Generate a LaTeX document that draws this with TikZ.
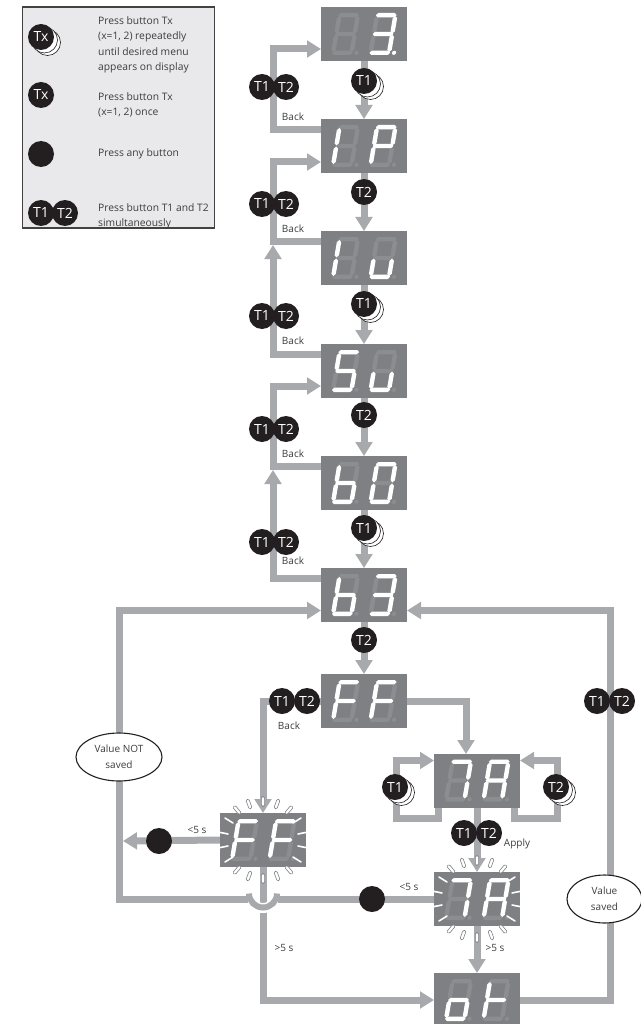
\documentclass[tikz,border=0pt]{standalone}
\usepackage{fontspec}
\setmainfont{Open Sans}
\usetikzlibrary{arrows.meta,backgrounds,shapes.geometric}
\definecolor{flow}{HTML}{A7A9AC}
\definecolor{panel}{HTML}{7F8083}
\definecolor{segdim}{HTML}{8C8D90}
\definecolor{ink}{HTML}{231F20}
\definecolor{txt}{HTML}{3C3C3C}
\definecolor{legendbg}{HTML}{E9E9EB}
\tikzset{
  disp/.style={fill=panel,minimum width=86pt,minimum height=54pt,inner sep=0pt,outer sep=0pt,rectangle},
  btn/.style={circle,fill=ink,text=white,minimum size=26pt,inner sep=0pt,font=\fontsize{14}{15}\selectfont},
  lab/.style={text=txt,font=\fontsize{10}{12}\selectfont,inner sep=0pt},
  leg/.style={text=txt,font=\fontsize{10.3}{15.4}\selectfont,inner sep=0pt,anchor=north west,align=left},
  flowline/.style={draw=flow,line width=7pt},
  flowarrow/.style={draw=flow,line width=7pt,-{Triangle[length=14pt,width=16.5pt]},},
  balloon/.style={ellipse,draw=ink,line width=1.1pt,fill=white,inner sep=0pt,text=txt,align=center,font=\fontsize{10}{16}\selectfont},
  ring/.style={draw=ink,line width=.6pt,fill=white},
  capsule/.style={draw=panel,line width=.6pt,fill=white,rounded corners=1.5pt},
}
% seven segment glyph parts, local size 23 x 42
\def\HS#1#2#3{(#1,#3) -- (#1+2.2,#3-2.2) -- (#2-2.2,#3-2.2) -- (#2,#3) -- (#2-2.2,#3+2.2) -- (#1+2.2,#3+2.2) -- cycle}
\def\VS#1#2#3{(#1,#2) -- (#1+2.2,#2+2.2) -- (#1+2.2,#3-2.2) -- (#1,#3) -- (#1-2.2,#3-2.2) -- (#1-2.2,#2+2.2) -- cycle}
\expandafter\def\csname sga\endcsname#1{\fill[#1] \HS{1.2}{22}{2.2};}
\expandafter\def\csname sgg\endcsname#1{\fill[#1] \HS{1.2}{22}{21};}
\expandafter\def\csname sgd\endcsname#1{\fill[#1] \HS{1.2}{22}{39.8};}
\expandafter\def\csname sgf\endcsname#1{\fill[#1] \VS{2.4}{3}{20.4};}
\expandafter\def\csname sge\endcsname#1{\fill[#1] \VS{2.4}{21.6}{39};}
\expandafter\def\csname sgb\endcsname#1{\fill[#1] \VS{20.8}{3}{20.4};}
\expandafter\def\csname sgc\endcsname#1{\fill[#1] \VS{20.8}{21.6}{39};}
\expandafter\def\csname sgp\endcsname#1{\fill[#1] (25.8,39.8) circle[radius=2.1];}
% one digit: local origin at top left of the glyph box
\newcommand{\onedigit}[3]{%
  \begin{scope}[shift={(#1,#2)},xslant=.17]
    \foreach \sgn in {a,b,c,d,e,f,g,p}{\csname sg\sgn\endcsname{segdim}}
    \foreach \sgn in {#3}{\csname sg\sgn\endcsname{white}}
  \end{scope}}
% display contents: centre x, centre y, lit left, lit right
\newcommand{\digits}[4]{%
  \onedigit{#1-26.5}{#2-21}{#3}
  \onedigit{#1+11}{#2-21}{#4}}
\newcommand{\flashrays}[2]{%
  \begin{scope}[shift={(#1,#2)}]
    \foreach \dx/\dy/\an in {-26/30/50,-14/36/70,0/38.5/90,14/36/110,26/30/130,
                             -26/-30/130,-14/-36/110,0/-38.5/90,14/-36/70,26/-30/50}{
      \begin{scope}[shift={(\dx,\dy)},rotate=\an]
        \draw[capsule] (-5,-1.6) rectangle (5,1.6);
      \end{scope}}
    \foreach \sx in {1,-1}{
      \draw[white,line width=1.6pt,line cap=round] (\sx*38,-22) -- (\sx*30,-17);
      \draw[white,line width=1.6pt,line cap=round] (\sx*45,-8) -- (\sx*35,-6);
      \draw[white,line width=1.6pt,line cap=round] (\sx*45,8) -- (\sx*35,6);
      \draw[white,line width=1.6pt,line cap=round] (\sx*38,22) -- (\sx*30,17);
    }
  \end{scope}}
\newcommand{\rings}[2]{%
  \draw[ring] (#1+6.5,#2+5.5) circle[radius=13];
  \draw[ring] (#1+3.5,#2+3) circle[radius=13];}
\begin{document}
\begin{tikzpicture}[x=1pt,y=-1pt]
\useasboundingbox (0,0) rectangle (640,1024);
% legend
\node[rectangle,draw=ink!85,line width=1.4pt,fill=legendbg,minimum width=192pt,minimum height=221pt,inner sep=0pt] (legend) at (118.5,117.5) {};
\rings{41}{37}
\node[btn] (legTxR) at (41,37) {Tx};
\node[btn] (legTx) at (41,95) {Tx};
\node[btn] (legAny) at (41,154) {};
\node[btn] (legT1) at (41,213) {T1};
\node[btn] (legT2) at (65,213) {T2};
\node[leg] (legA) at (98,16.5) {Press button Tx\\(x=1, 2) repeatedly\\until desired menu\\appears on display};
\node[leg] (legB) at (98,92.5) {Press button Tx\\(x=1, 2) once};
\node[leg] (legC) at (98,148.5) {Press any button};
\node[leg] (legD) at (98,203) {Press button T1 and T2\\simultaneously};
% displays
\node[disp] (d1) at (364,34) {};
\node[disp] (d2) at (364,146) {};
\node[disp] (d3) at (364,258) {};
\node[disp] (d4) at (364,371) {};
\node[disp] (d5) at (364,483) {};
\node[disp] (d6) at (364,595) {};
\node[disp] (d7) at (364,701) {};
\node[disp] (d8) at (477,780.5) {};
\node[disp] (d9) at (477,899) {};
\node[disp] (d10) at (477,1000) {};
\node[disp] (d11) at (263,840) {};
\digits{364}{34}{}{a,b,c,d,g,p}
\digits{364}{146}{e,f}{a,b,e,f,g}
\digits{364}{258}{e,f}{c,d,e}
\digits{364}{371}{a,f,g,c,d}{c,d,e}
\digits{364}{483}{f,e,g,c,d}{a,b,c,d,e,f}
\digits{364}{595}{f,e,g,c,d}{a,b,g,c,d}
\digits{364}{701}{a,f,g,e}{a,f,g,e}
\digits{477}{780.5}{a,b,c}{a,b,c,e,f,g}
\digits{477}{899}{a,b,c}{a,b,c,e,f,g}
\digits{477}{1000}{c,d,e,g}{f,e,g}
\digits{263}{840}{a,f,g,e}{a,f,g,e}
\flashrays{263}{840}
\flashrays{477}{899}
% named attachment points
\foreach \nm/\xx/\yy in {
  a1/321/49, b2/321/130, a2/321/162, b3/321/241, u3/273/245, b4/321/354,
  a4/321/386, b5/321/466, u5/273/470, b6/321/578, lw/321/610.5, rw/407/610.5,
  bkw/321/701, e7/407/701, n8/466/754, s8l/438/807, s8r/514/807,
  w8/434/760.5, e8/520/760.5, w9/434/899, w10/434/1000, e10/520/1000}
  {\coordinate (\nm) at (\xx,\yy);}
% buttons on connectors
\rings{364}{81}
\node[btn] (n1) at (364,81) {T1};
\node[btn] (n2) at (364,192) {T2};
\rings{364}{304}
\node[btn] (n3) at (364,304) {T1};
\node[btn] (n4) at (364,415) {T2};
\rings{364}{528}
\node[btn] (n5) at (364,528) {T1};
\node[btn] (n6) at (364,640) {T2};
\foreach \nm/\yy in {a/87,b/204,c/316,d/429,e/542}{
  \node[btn] (l\nm) at (262,\yy) {T1};
  \node[btn] (r\nm) at (286,\yy) {T2};
}
\node[lab] (bka) at (293,117) {Back};
\node[lab] (bkb) at (293,229) {Back};
\node[lab] (bkc) at (293,341) {Back};
\node[lab] (bkd) at (293,454) {Back};
\node[lab] (bke) at (293,561) {Back};
\node[btn] (bf1) at (282,701) {T1};
\node[btn] (bf2) at (307,701) {T2};
\node[lab] (bkf) at (289,726) {Back};
\rings{395}{787}
\node[btn] (lp1) at (395,787) {T1};
\rings{556}{787}
\node[btn] (rp2) at (556,787) {T2};
\node[btn] (ap1) at (464,833) {T1};
\node[btn] (ap2) at (489,833) {T2};
\node[lab] (apl) at (517,844) {Apply};
\node[btn] (any1) at (159,841) {};
\node[btn] (any2) at (372,899) {};
\node[lab] (lt1) at (197,830) {<5 s};
\node[lab] (lt2) at (409,887) {<5 s};
\node[lab] (gt1) at (284,948) {>5 s};
\node[lab] (gt2) at (495,948) {>5 s};
\node[btn] (vs1) at (597,701) {T1};
\node[btn] (vs2) at (622,701) {T2};
\node[balloon,minimum width=86pt,minimum height=48pt] (vn) at (119,757) {Value NOT\\saved};
\node[balloon,minimum width=75pt,minimum height=48pt] (vy) at (604.5,899) {Value\\saved};
% connectors
\begin{scope}[on background layer]
  \draw[flowarrow] (d1.south) -- (d2.north);
  \draw[flowarrow] (d2.south) -- (d3.north);
  \draw[flowarrow] (d3.south) -- (d4.north);
  \draw[flowarrow] (d4.south) -- (d5.north);
  \draw[flowarrow] (d5.south) -- (d6.north);
  \draw[flowarrow] (d6.south) -- (d7.north);
  \draw[flowarrow] (b2) -- (273,130) -- (273,49) -- (a1);
  \draw[flowarrow] (b3) -- (273,241) -- (273,162) -- (a2);
  \draw[flowarrow] (b4) -- (273,354) -- (u3);
  \draw[flowarrow] (b5) -- (273,466) -- (273,386) -- (a4);
  \draw[flowarrow] (b6) -- (273,578) -- (u5);
  \draw[flowarrow] (bkw) -- (263,701) -- (d11.north);
  \draw[flowarrow] (e7) -- (466,701) -- (n8);
  \draw[flowarrow] (s8l) -- (438,818) -- (396.5,818) -- (396.5,760.5) -- (w8);
  \draw[flowarrow] (s8r) -- (514,818) -- (557,818) -- (557,760.5) -- (e8);
  \draw[flowarrow] (d8.south) -- (d9.north);
  \draw[flowarrow] (d9.south) -- (d10.north);
  \draw[flowarrow] (e10) -- (610,1000) -- (610,610.5) -- (rw);
  \draw[flowarrow] (d11.west) -- (123,841);
  \draw[flowarrow] (d11.south) -- (263,1000) -- (w10);
  % hump of the line that crosses over the >5 s path
  \draw[white,line width=10pt] (249,894) arc[start angle=180,end angle=0,radius=14];
  \draw[flowline] (w9) -- (278,899);
  \draw[flowline,line width=6pt] (249,893.5) arc[start angle=180,end angle=0,radius=14];
  \draw[flowarrow] (248,899) -- (119,899) -- (119,610.5) -- (lw);
\end{scope}
\end{tikzpicture}
\end{document}
